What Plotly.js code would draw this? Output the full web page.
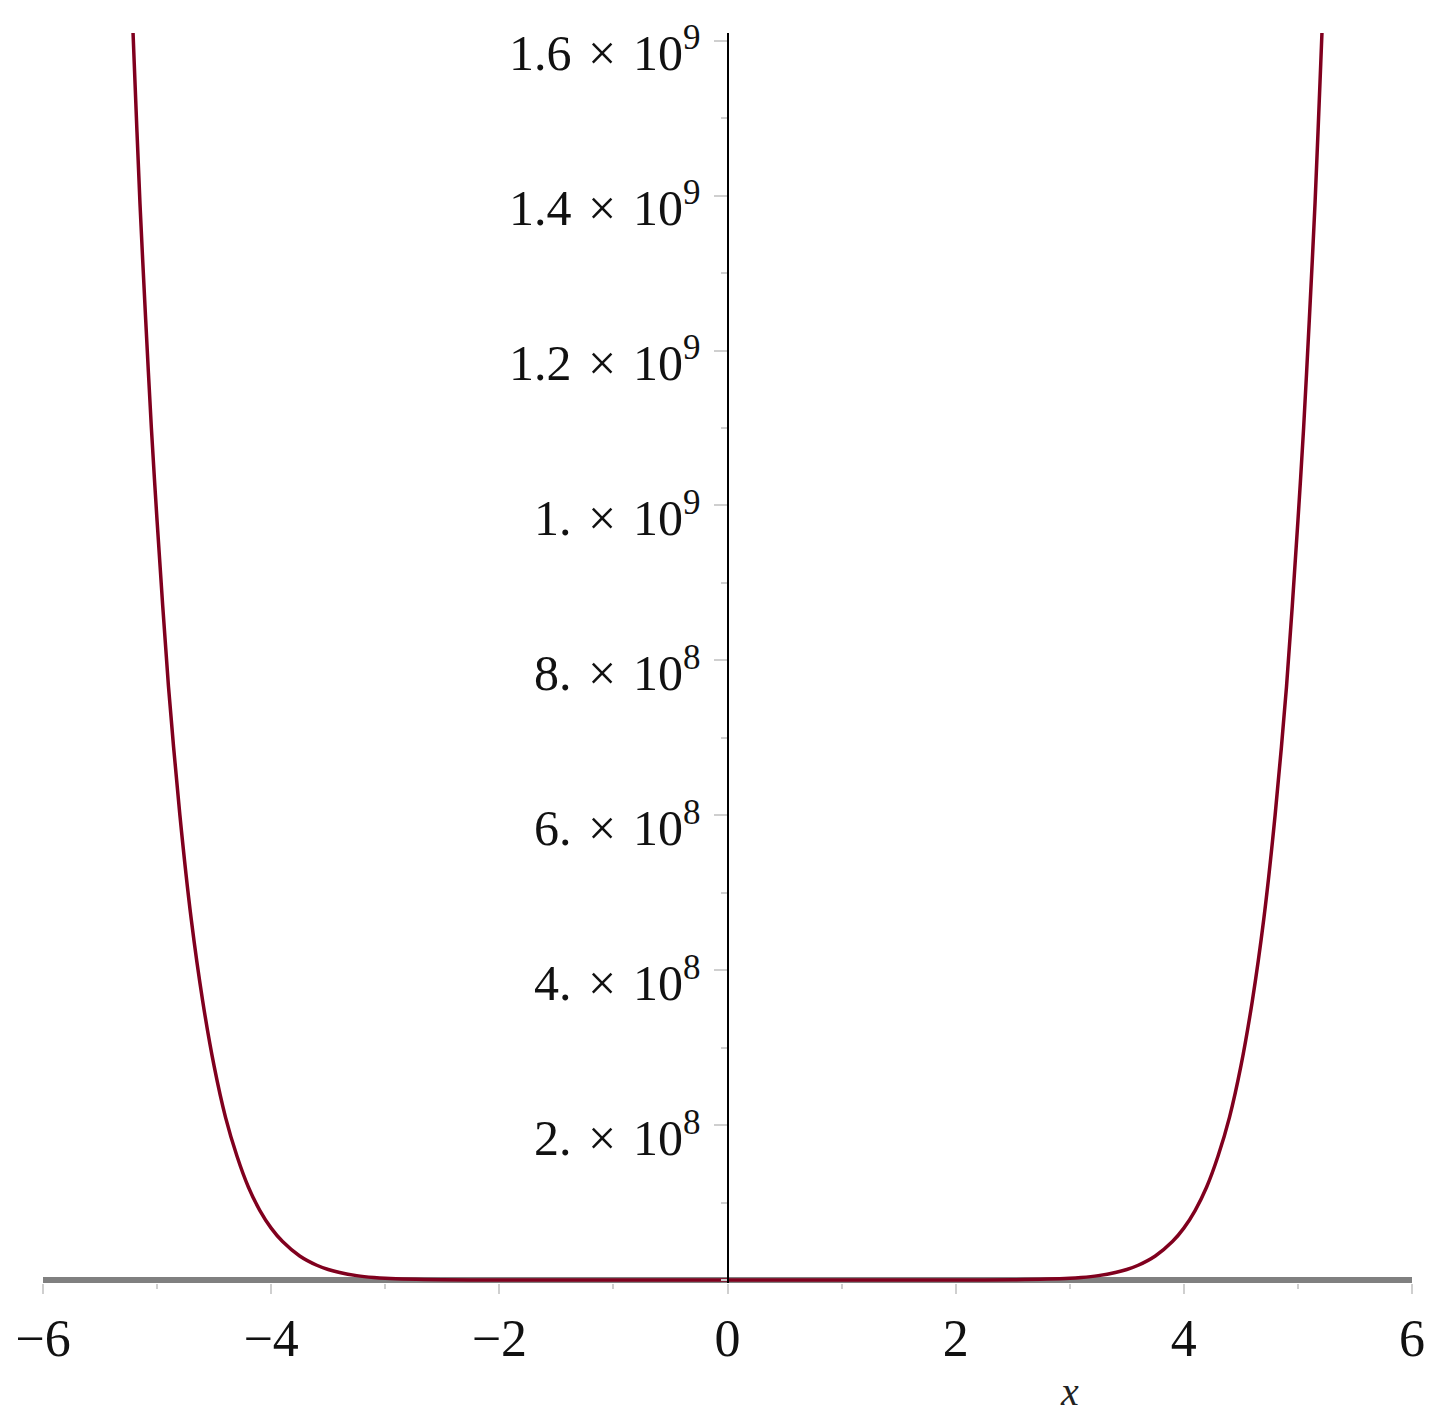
<!DOCTYPE html>
<html>
<head>
<meta charset="utf-8">
<script src="https://cdn.plot.ly/plotly-3.0.1.min.js"></script>
<style>
  body { margin: 0; background: #fff; }
  #plot { width: 1446px; height: 1427px; }
</style>
</head>
<body>
<div id="plot"></div>
<script>
// curve (even function, steep walls near x = +-5.2)
var xs = [-5.3, -5.25, -5.2, -5.15, -5.1, -5.05, -5.0, -4.9, -4.8, -4.7, -4.6, -4.5, -4.4, -4.3, -4.2, -4.1, -4.0,
          -3.9, -3.75, -3.6, -3.5, -3.4, -3.25, -3.1, -3.0, -2.5, -2.0, -1.5, -1.0, -0.5, 0,
          0.5, 1.0, 1.5, 2.0, 2.5, 3.0, 3.1, 3.25, 3.4, 3.5, 3.6, 3.75, 3.9,
          4.0, 4.1, 4.2, 4.3, 4.4, 4.5, 4.6, 4.7, 4.8, 4.9, 5.0, 5.05, 5.1, 5.15, 5.2, 5.25, 5.3];
var ys = [1.97e9, 1.76e9, 1.57e9, 1.39e9, 1.24e9, 1.10e9, 9.8e8, 7.66e8, 6.0e8, 4.65e8, 3.6e8, 2.76e8, 2.1e8, 1.6e8, 1.2e8, 9.0e7, 6.7e7,
          4.96e7, 3.1e7, 1.9e7, 1.35e7, 9.6e6, 5.6e6, 3.15e6, 2.13e6, 2.4e5, 1.6e4, 520, 4, 0, 0,
          0, 4, 520, 1.6e4, 2.4e5, 2.13e6, 3.15e6, 5.6e6, 9.6e6, 1.35e7, 1.9e7, 3.1e7, 4.96e7,
          6.7e7, 9.0e7, 1.2e8, 1.6e8, 2.1e8, 2.76e8, 3.6e8, 4.65e8, 6.0e8, 7.66e8, 9.8e8, 1.10e9, 1.24e9, 1.39e9, 1.57e9, 1.76e9, 1.97e9];

var xTicks = [-6, -4, -2, 0, 2, 4, 6];
var xTickText = ['\u22126', '\u22124', '\u22122', '0', '2', '4', '6'];
var yTicks = [2e8, 4e8, 6e8, 8e8, 1e9, 1.2e9, 1.4e9, 1.6e9];
var times = ' \u200a\u00d7\u200a ';
var yTickText = ['2.' + times + '10<sup>8</sup>', '4.' + times + '10<sup>8</sup>', '6.' + times + '10<sup>8</sup>', '8.' + times + '10<sup>8</sup>',
                 '1.' + times + '10<sup>9</sup>', '1.2' + times + '10<sup>9</sup>', '1.4' + times + '10<sup>9</sup>', '1.6' + times + '10<sup>9</sup>'];

var serif = 'Liberation Serif, Times New Roman, serif';

var trace = {
  x: xs,
  y: ys,
  type: 'scatter',
  mode: 'lines',
  line: { color: 'rgb(128,0,30)', width: 3.5, shape: 'spline', smoothing: 0.8 },
  hoverinfo: 'skip'
};

var layout = {
  width: 1446,
  height: 1427,
  margin: { l: 43, r: 34, t: 33, b: 144 },
  paper_bgcolor: '#fff',
  plot_bgcolor: '#fff',
  showlegend: false,
  font: { family: serif, color: '#111' },
  xaxis: {
    range: [-6, 6],
    showgrid: false,
    zeroline: false,
    showline: false,
    tickmode: 'array',
    tickvals: xTicks,
    ticktext: xTickText,
    ticks: 'outside',
    ticklen: 10,
    tickwidth: 2,
    tickcolor: '#cfcfcf',
    minor: { tickmode: 'linear', tick0: 0, dtick: 1, ticks: 'outside', ticklen: 5, tickwidth: 2, tickcolor: '#cfcfcf' },
    tickfont: { family: serif, size: 52, color: '#111' },
    fixedrange: true
  },
  yaxis: {
    range: [-3.9e6, 1.61e9],
    anchor: 'free',
    position: 0.5,
    showgrid: false,
    zeroline: true,
    zerolinecolor: '#808080',
    zerolinewidth: 6,
    showline: true,
    linecolor: '#000',
    linewidth: 2,
    tickmode: 'array',
    tickvals: yTicks,
    ticktext: yTickText,
    ticks: 'outside',
    ticklen: 13,
    tickwidth: 2,
    tickcolor: '#cfcfcf',
    ticklabelstandoff: 3,
    ticklabelshift: 12,
    minor: { tickmode: 'linear', tick0: 0, dtick: 1e8, ticks: 'outside', ticklen: 6, tickwidth: 2, tickcolor: '#cfcfcf' },
    tickfont: { family: serif, size: 50, color: '#111' },
    fixedrange: true
  },
  annotations: [{
    text: '<i>x</i>',
    xref: 'x', yref: 'paper',
    x: 3, y: -0.087,
    xanchor: 'center', yanchor: 'middle',
    showarrow: false,
    font: { family: serif, size: 40, color: '#222' }
  }]
};

Plotly.newPlot('plot', [trace], layout, { displayModeBar: false, staticPlot: true });
</script>
</body>
</html>
